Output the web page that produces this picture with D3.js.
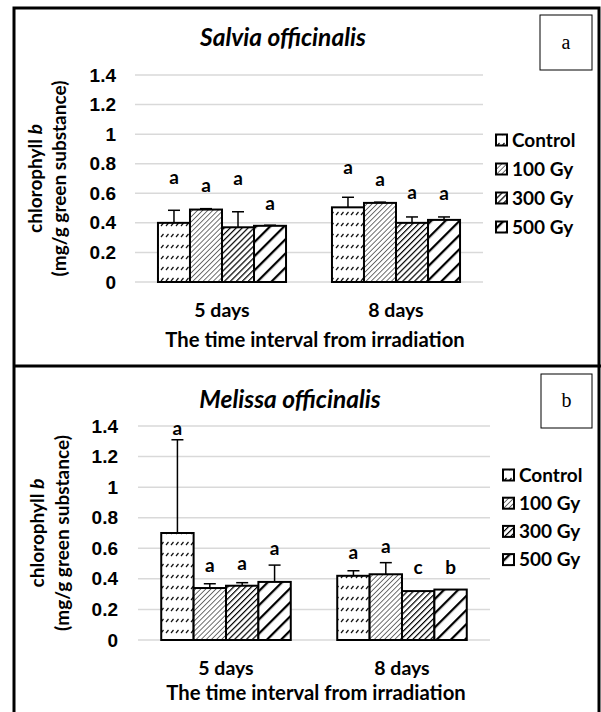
<!DOCTYPE html>
<html>
<head>
<meta charset="utf-8">
<script src="https://cdn.jsdelivr.net/npm/d3@7"></script>
<style>
  body { margin: 0; background: #fff; }
  svg { display: block; font-family: Lato, "Open Sans", sans-serif; }
  .tick text { font-weight: bold; font-size: 19px; fill: #000; }
  .lbl { font-weight: bold; fill: #000; }
</style>
</head>
<body>
<div id="chart"></div>
<script>
"use strict";

// categories and treatments
var categories = ["5 days", "8 days"];
var treatments = ["Control", "100 Gy", "300 Gy", "500 Gy"];
var yTicks = [0, 0.2, 0.4, 0.6, 0.8, 1, 1.2, 1.4];

// Salvia officinalis (panel a), one row per category
var salviaMeans = [[0.40, 0.49, 0.37, 0.38], [0.505, 0.535, 0.40, 0.42]];
var salviaErr = [[0.085, 0.006, 0.105, 0.004], [0.068, 0.005, 0.04, 0.02]];
var salviaLetters = [["a", "a", "a", "a"], ["a", "a", "a", "a"]];
var salviaLetterAt = [[0.70, 0.645, 0.694, 0.525], [0.77, 0.69, 0.60, 0.59]];

// Melissa officinalis (panel b)
var melissaMeans = [[0.70, 0.34, 0.355, 0.38], [0.42, 0.43, 0.32, 0.33]];
var melissaErr = [[0.61, 0.028, 0.02, 0.11], [0.033, 0.076, 0, 0]];
var melissaLetters = [["a", "a", "a", "a"], ["a", "a", "c", "b"]];
var melissaLetterAt = [[1.38, 0.484, 0.497, 0.595], [0.569, 0.608, 0.471, 0.471]];

var svg = d3.select("#chart").append("svg")
  .attr("width", 601)
  .attr("height", 712);

// fill patterns, one per treatment
var defs = svg.append("defs");
var pat = defs.append("pattern").attr("id", "p0").attr("patternUnits", "userSpaceOnUse")
  .attr("width", 5).attr("height", 11);
pat.append("rect").attr("width", 5).attr("height", 11).attr("fill", "#fff");
pat.append("line").attr("x1", 1).attr("y1", 6).attr("x2", 3.5).attr("y2", 3)
  .attr("stroke", "#111").attr("stroke-width", 1.2);

pat = defs.append("pattern").attr("id", "p1").attr("patternUnits", "userSpaceOnUse")
  .attr("width", 3.6).attr("height", 3.6).attr("patternTransform", "rotate(45)");
pat.append("rect").attr("width", 3.6).attr("height", 3.6).attr("fill", "#fff");
pat.append("line").attr("x1", 0).attr("y1", 0).attr("x2", 0).attr("y2", 3.6)
  .attr("stroke", "#222").attr("stroke-width", 1.3);

pat = defs.append("pattern").attr("id", "p2").attr("patternUnits", "userSpaceOnUse")
  .attr("width", 4.2).attr("height", 4.2).attr("patternTransform", "rotate(45)");
pat.append("rect").attr("width", 4.2).attr("height", 4.2).attr("fill", "#fff");
pat.append("line").attr("x1", 0).attr("y1", 0).attr("x2", 0).attr("y2", 4.2)
  .attr("stroke", "#000").attr("stroke-width", 2.4);

pat = defs.append("pattern").attr("id", "p3").attr("patternUnits", "userSpaceOnUse")
  .attr("width", 10).attr("height", 10).attr("patternTransform", "rotate(45)");
pat.append("rect").attr("width", 10).attr("height", 10).attr("fill", "#fff");
pat.append("line").attr("x1", 0).attr("y1", 0).attr("x2", 0).attr("y2", 10)
  .attr("stroke", "#000").attr("stroke-width", 4.5);

// outer frame and divider
svg.append("rect").attr("x", 14).attr("y", 8).attr("width", 585).attr("height", 710)
  .attr("fill", "none").attr("stroke", "#000").attr("stroke-width", 3);
svg.append("line").attr("x1", 14).attr("x2", 601).attr("y1", 366).attr("y2", 366)
  .attr("stroke", "#000").attr("stroke-width", 3);

function drawPanel(o) {
  var y = d3.scaleLinear().domain([0, 1.4]).range([o.y0, o.y1]);
  var x0 = d3.scaleBand().domain(categories).range([o.x0, o.x1]);
  var gw = x0.bandwidth() * 0.736;
  var x1 = d3.scaleBand().domain(treatments).range([0, gw]);

  // grid lines
  svg.append("g").selectAll("line").data(yTicks).join("line")
    .attr("x1", o.x0).attr("x2", o.x1)
    .attr("y1", function(d) { return y(d); })
    .attr("y2", function(d) { return y(d); })
    .attr("stroke", "#d9d9d9").attr("stroke-width", 1.5);

  // y axis labels
  var ax = svg.append("g")
    .attr("transform", "translate(" + o.x0 + ",0)")
    .call(d3.axisLeft(y).tickValues(yTicks).tickSize(0).tickPadding(o.x0 - o.tickRight)
      .tickFormat(function(d) { return d3.format("")(+d.toFixed(1)); }));
  ax.select(".domain").remove();

  var rows = categories.map(function(c, i) {
    return treatments.map(function(t, j) {
      return {cat: c, tr: t, j: j, v: o.means[i][j], e: o.err[i][j],
        letter: o.letters[i][j], lv: o.letterAt[i][j]};
    });
  });
  var flat = [].concat.apply([], rows);
  var bx = function(d) { return x0(d.cat) + (x0.bandwidth() - gw) / 2 + x1(d.tr); };

  var g = svg.append("g");
  g.selectAll("rect").data(flat).join("rect")
    .attr("x", bx)
    .attr("y", function(d) { return y(d.v); })
    .attr("width", x1.bandwidth())
    .attr("height", function(d) { return y(0) - y(d.v); })
    .attr("fill", function(d) { return "url(#p" + d.j + ")"; })
    .attr("stroke", "#000").attr("stroke-width", 2);

  // upper error bars
  var eb = g.selectAll("g.err").data(flat.filter(function(d) { return d.e > 0; })).join("g")
    .attr("class", "err");
  eb.append("line")
    .attr("x1", function(d) { return bx(d) + x1.bandwidth() / 2; })
    .attr("x2", function(d) { return bx(d) + x1.bandwidth() / 2; })
    .attr("y1", function(d) { return y(d.v); })
    .attr("y2", function(d) { return y(d.v + d.e); })
    .attr("stroke", "#000").attr("stroke-width", 1.5);
  eb.append("line")
    .attr("x1", function(d) { return bx(d) + x1.bandwidth() / 2 - 6; })
    .attr("x2", function(d) { return bx(d) + x1.bandwidth() / 2 + 6; })
    .attr("y1", function(d) { return y(d.v + d.e); })
    .attr("y2", function(d) { return y(d.v + d.e); })
    .attr("stroke", "#000").attr("stroke-width", 1.5);

  // significance letters
  g.selectAll("text.let").data(flat).join("text")
    .attr("class", "let lbl")
    .attr("x", function(d) { return bx(d) + x1.bandwidth() / 2; })
    .attr("y", function(d) { return y(d.lv); })
    .attr("dy", "0.3em")
    .attr("text-anchor", "middle")
    .style("font-size", "19px")
    .text(function(d) { return d.letter; });

  // category labels
  svg.append("g").selectAll("text").data(categories).join("text")
    .attr("class", "lbl")
    .attr("x", function(d) { return x0(d) + x0.bandwidth() / 2; })
    .attr("y", o.catY)
    .attr("text-anchor", "middle")
    .style("font-size", "19.5px")
    .text(function(d) { return d; });

  svg.append("text").attr("class", "lbl")
    .attr("x", o.xTitleX).attr("y", o.xTitleY)
    .attr("text-anchor", "middle")
    .style("font-size", "20.3px")
    .text("The time interval from irradiation");

  // y axis title
  var yt = svg.append("text").attr("class", "lbl")
    .attr("transform", "translate(" + o.yTitleX + "," + (o.y0 + o.y1) / 2 + ") rotate(-90)")
    .attr("text-anchor", "middle")
    .style("font-size", "19px");
  yt.append("tspan").attr("x", 0).attr("y", 0).text("chlorophyll ");
  yt.append("tspan").style("font-style", "italic").text("b");
  yt.append("tspan").attr("x", 0).attr("y", o.yTitleGap).text("(mg/g green substance)");

  // chart title
  svg.append("text").attr("class", "lbl")
    .attr("x", o.titleX).attr("y", o.titleY)
    .attr("text-anchor", "middle")
    .style("font-size", "24.5px").style("font-style", "italic")
    .text(o.title);

  // panel tag box
  svg.append("rect").attr("x", o.tag[0]).attr("y", o.tag[1])
    .attr("width", o.tag[2]).attr("height", o.tag[3])
    .attr("fill", "#fff").attr("stroke", "#000").attr("stroke-width", 1);
  svg.append("text")
    .attr("x", o.tag[0] + o.tag[2] / 2).attr("y", o.tag[1] + o.tag[3] / 2)
    .attr("dy", "0.3em").attr("text-anchor", "middle")
    .style("font-family", "'Liberation Serif', serif").style("font-size", "20px")
    .text(o.tagText);

  // legend
  var lg = svg.append("g").selectAll("g").data(treatments).join("g")
    .attr("transform", function(d, i) { return "translate(" + o.legX + "," + (o.legY + i * o.legStep) + ")"; });
  lg.append("rect").attr("x", 0).attr("y", -5.5).attr("width", 11).attr("height", 11)
    .attr("fill", function(d, i) { return "url(#p" + i + ")"; })
    .attr("stroke", "#000").attr("stroke-width", 2);
  lg.append("text").attr("class", "lbl")
    .attr("x", 16).attr("y", 0).attr("dy", "0.35em")
    .style("font-size", "19px")
    .text(function(d) { return d; });
}

drawPanel({
  title: "Salvia officinalis", titleX: 283, titleY: 46,
  means: salviaMeans, err: salviaErr, letters: salviaLetters, letterAt: salviaLetterAt,
  x0: 135, x1: 483, y0: 282, y1: 75, tickRight: 116,
  catY: 317, xTitleX: 315, xTitleY: 347,
  yTitleX: 42, yTitleGap: 24,
  tag: [540, 15, 52, 55], tagText: "a",
  legX: 496, legY: 140, legStep: 29
});

drawPanel({
  title: "Melissa officinalis", titleX: 290, titleY: 408,
  means: melissaMeans, err: melissaErr, letters: melissaLetters, letterAt: melissaLetterAt,
  x0: 138, x1: 490, y0: 640, y1: 426, tickRight: 118,
  catY: 675, xTitleX: 316, xTitleY: 700,
  yTitleX: 44, yTitleGap: 25,
  tag: [541, 374, 51, 54], tagText: "b",
  legX: 503, legY: 475, legStep: 28.2
});
</script>
</body>
</html>
